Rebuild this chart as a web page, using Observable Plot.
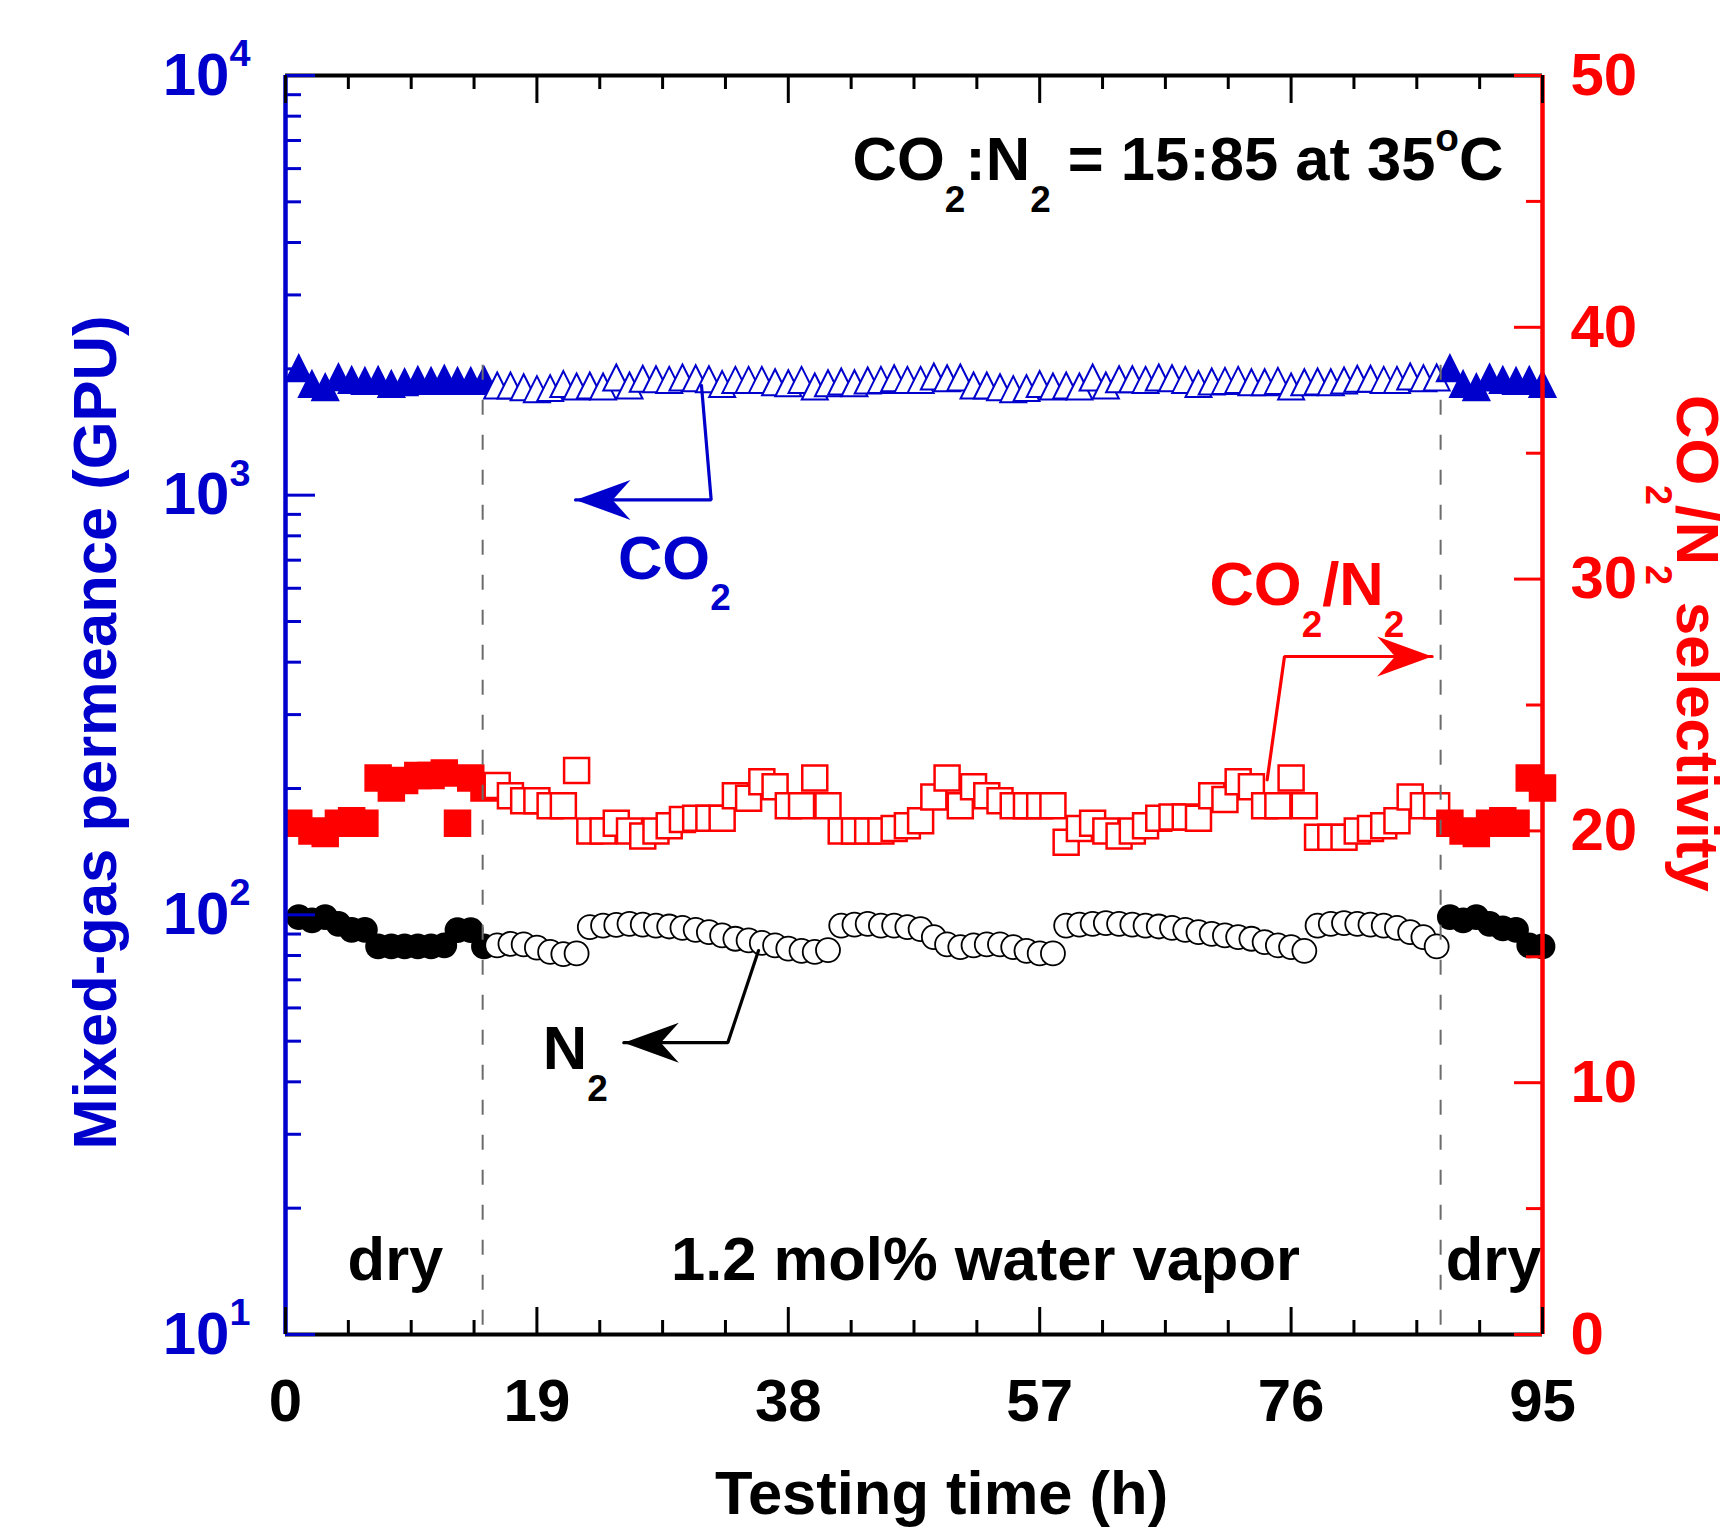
<!DOCTYPE html>
<html>
<head>
<meta charset="utf-8">
<script src="https://cdn.jsdelivr.net/npm/d3@7"></script>
<script src="https://cdn.jsdelivr.net/npm/@observablehq/plot@0.6"></script>
<style>
html, body { margin: 0; padding: 0; background: #ffffff; }
#chart svg { display: block; }
</style>
</head>
<body>
<div id="chart"></div>
<script>
// ---------------- data ----------------
const time = [1,2,3,4,5,6,7,8,9,10,11,12,13,14,15,16,17,18,19,20,21,22,23,24,25,26,27,28,29,30,
  31,32,33,34,35,36,37,38,39,40,41,42,43,44,45,46,47,48,49,50,51,52,53,54,55,56,57,58,59,60,
  61,62,63,64,65,66,67,68,69,70,71,72,73,74,75,76,77,78,79,80,81,82,83,84,85,86,87,88,89,90,
  91,92,93,94,95];

const co2Permeance = [1960,1796,1766,1866,1838,1828,1838,1796,1815,1838,1828,1849,1828,1828,1838,
  1782,1782,1766,1747,1757,1796,1772,1782,1772,1862,1782,1849,1845,1838,1862,
  1855,1845,1796,1838,1838,1838,1815,1805,1838,1772,1805,1822,1805,1832,1838,
  1855,1838,1838,1873,1855,1862,1782,1782,1766,1747,1757,1796,1772,1782,1772,
  1862,1782,1845,1845,1838,1862,1855,1838,1796,1822,1828,1838,1815,1815,1828,
  1772,1815,1822,1815,1832,1849,1849,1838,1838,1873,1855,1862,
  1960,1796,1766,1862,1838,1828,1838,1796];

const n2Permeance = [98.8,97.0,98.8,95.2,92.1,92.1,84.1,84.1,84.1,84.1,84.1,84.6,92.0,92.0,84.1,
  84.6,85.3,85.0,83.5,81.6,80.6,80.9,93.5,94.3,94.6,95.2,94.8,94.3,93.8,93.1,
  92.1,90.9,89.3,87.7,86.9,85.7,84.6,83.1,82.1,81.6,82.4,94.3,94.8,95.2,94.3,
  94.3,93.5,92.5,88.5,85.0,83.8,84.6,85.0,85.0,83.8,82.1,80.9,80.9,94.3,94.8,
  95.2,95.6,95.2,94.8,94.3,93.8,93.1,92.1,90.9,90.1,89.3,88.5,87.7,86.1,84.6,
  83.8,82.1,94.3,95.2,95.6,95.2,94.8,94.3,93.1,90.9,88.5,84.1,
  98.8,97.0,98.8,95.2,92.8,92.1,84.6,84.1];

const selectivity = [20.3,20.0,19.9,20.3,20.4,20.3,22.1,21.7,22.0,22.2,22.2,22.3,20.3,22.1,21.7,
  21.8,21.4,21.2,21.2,21.0,21.0,22.4,20.0,20.0,20.3,20.0,19.8,20.0,20.2,20.45,
  20.5,20.5,20.5,21.4,21.3,21.95,21.75,21.0,21.0,22.1,21.0,20.0,20.0,20.0,20.0,
  20.1,20.2,20.4,21.35,22.1,21.0,21.75,21.4,21.2,21.0,21.0,21.0,21.0,19.55,20.1,
  20.3,20.0,19.8,20.0,20.2,20.5,20.55,20.55,20.5,21.4,21.25,21.95,21.75,21.0,21.0,
  22.1,21.0,19.75,19.75,19.75,20.0,20.1,20.2,20.4,21.35,21.0,21.0,
  20.3,20.0,19.9,20.3,20.4,20.3,22.1,21.7];

const dryBefore = [1, 15];
const humid = [16, 87];
const dryAfter = [88, 95];
const switchTimes = [14.9, 87.3];

const xTicksMajor = [0, 19, 38, 57, 76, 95];
const xTicksMinor = [4.75, 9.5, 14.25, 23.75, 28.5, 33.25, 42.75, 47.5, 52.25, 61.75, 66.5, 71.25, 80.75, 85.5, 90.25];
const leftTicksMajor = [10, 100, 1000, 10000];
const leftTicksMinor = [20,30,40,50,60,70,80,90,200,300,400,500,600,700,800,900,2000,3000,4000,5000,6000,7000,8000,9000];
const rightTicksMajor = [0, 10, 20, 30, 40, 50];
const rightTicksMinor = [5, 15, 25, 35, 45];

const annotations = [
  {label: "CO_{2}:N_{2} = 15:85 at 35^{o}C", t: 92.05, v: 5622, color: "#000000", anchor: "end"},
  {label: "CO_{2}", t: 25.12, v: 633, color: "#0000CC", anchor: "start"},
  {label: "CO_{2}/N_{2}", t: 69.83, v: 546, color: "#FF0000", anchor: "start"},
  {label: "N_{2}", t: 19.45, v: 43.0, color: "#000000", anchor: "start"},
  {label: "dry", t: 8.31, v: 13.52, color: "#000000", anchor: "middle"},
  {label: "1.2 mol% water vapor", t: 52.9, v: 13.52, color: "#000000", anchor: "middle"},
  {label: "dry", t: 91.3, v: 13.52, color: "#000000", anchor: "middle"}
];

const arrowCO2 = [{t: 31.44, v: 1825}, {t: 32.17, v: 974}, {t: 21.92, v: 974}];
const arrowN2 = [{t: 35.75, v: 82.2}, {t: 33.43, v: 49.6}, {t: 25.57, v: 49.6}];
const arrowSel = [{t: 74.19, v: 209.8}, {t: 75.50, v: 412.6}, {t: 86.66, v: 412.6}];

// ---------------- styling ----------------
const BLUE = "#0000CC", RED = "#FF0000", BLACK = "#000000", GRAY = "#6b6b6b";
const WIDTH = 1731, HEIGHT = 1527;
const ML = 285, MR = 189, MT = 75, MB = 193;
const PW = WIDTH - ML - MR, PH = HEIGHT - MT - MB;
const TICKFONT = 60;
const FONT = 61.5;

// selectivity (0..50, right axis) mapped onto the left log scale (10..10^4)
const selToY = s => Math.pow(10, 1 + 3 * s / 50);

const rows = time.map((t, i) => ({t, co2: co2Permeance[i], n2: n2Permeance[i], sel: selectivity[i]}));
const inRange = r => d => d.t >= r[0] && d.t <= r[1];
const phases = [
  {rows: rows.filter(inRange(dryBefore)), open: false},
  {rows: rows.filter(inRange(humid)), open: true},
  {rows: rows.filter(inRange(dryAfter)), open: false}
];

// symbols
const triSym = {draw(ctx, size) { const r = Math.sqrt(size / Math.PI); ctx.moveTo(0, -4 * r / 3); ctx.lineTo(r, 2 * r / 3); ctx.lineTo(-r, 2 * r / 3); ctx.closePath(); }};
const sqSym = {draw(ctx, size) { const r = Math.sqrt(size / Math.PI); ctx.moveTo(-r, -r); ctx.lineTo(r, -r); ctx.lineTo(r, r); ctx.lineTo(-r, r); ctx.closePath(); }};
const headLeft = {draw(ctx) { ctx.moveTo(0, 0); ctx.lineTo(55, -20); ctx.lineTo(37, 0); ctx.lineTo(55, 20); ctx.closePath(); }};
const headRight = {draw(ctx) { ctx.moveTo(0, 0); ctx.lineTo(-55, -20); ctx.lineTo(-37, 0); ctx.lineTo(-55, 20); ctx.closePath(); }};

const marks = [];

// data markers
for (const p of phases) {
  marks.push(Plot.dot(p.rows, {x: "t", y: "co2", symbol: triSym, r: 13, fill: p.open ? "white" : BLUE, stroke: BLUE, strokeWidth: 2}));
}
for (const p of phases) {
  marks.push(Plot.dot(p.rows, {x: "t", y: d => selToY(d.sel), symbol: sqSym, r: 12.5, fill: p.open ? "white" : RED, stroke: RED, strokeWidth: 2.5}));
}
for (const p of phases) {
  marks.push(Plot.dot(p.rows, {x: "t", y: "n2", symbol: "circle", r: 12, fill: p.open ? "white" : BLACK, stroke: BLACK, strokeWidth: 1.8}));
}

// dashed switching lines
marks.push(Plot.ruleX(switchTimes, {x: d => d, y1: 2040, y2: 10, stroke: GRAY, strokeWidth: 2, strokeDasharray: "15,20"}));

// arrows
const arrowSpecs = [
  {pts: arrowCO2, color: BLUE, head: headLeft},
  {pts: arrowN2, color: BLACK, head: headLeft},
  {pts: arrowSel, color: RED, head: headRight}
];
for (const a of arrowSpecs) {
  marks.push(Plot.line(a.pts, {x: "t", y: "v", stroke: a.color, strokeWidth: 3.2, strokeLinejoin: "miter", curve: "linear"}));
  marks.push(Plot.dot(a.pts.slice(-1), {x: "t", y: "v", symbol: a.head, r: 1, fill: a.color, stroke: "none"}));
}

// annotations
for (const a of annotations) {
  marks.push(Plot.text([a], {x: "t", y: "v", text: "label", fill: a.color, textAnchor: a.anchor, lineAnchor: "bottom", fontSize: FONT, fontWeight: "bold"}));
}

// frame lines
marks.push(Plot.ruleY([10], {y: d => d, stroke: BLACK, strokeWidth: 4}));
marks.push(Plot.ruleY([10000], {y: d => d, stroke: BLACK, strokeWidth: 4}));
marks.push(Plot.ruleX([0], {x: d => d, stroke: BLUE, strokeWidth: 4.5}));
marks.push(Plot.ruleX([95], {x: d => d, stroke: RED, strokeWidth: 4.5}));

// inward ticks
marks.push(Plot.tickY(leftTicksMajor, {y: d => d, stroke: BLUE, strokeWidth: 3, insetRight: PW - 30}));
marks.push(Plot.tickY(leftTicksMinor, {y: d => d, stroke: BLUE, strokeWidth: 3, insetRight: PW - 16}));
marks.push(Plot.tickY(rightTicksMajor, {y: d => selToY(d), stroke: RED, strokeWidth: 3, insetLeft: PW - 28}));
marks.push(Plot.tickY(rightTicksMinor, {y: d => selToY(d), stroke: RED, strokeWidth: 3, insetLeft: PW - 16}));
marks.push(Plot.tickX(xTicksMajor, {x: d => d, stroke: BLACK, strokeWidth: 3, insetTop: PH - 27}));
marks.push(Plot.tickX(xTicksMinor, {x: d => d, stroke: BLACK, strokeWidth: 3, insetTop: PH - 14}));
marks.push(Plot.tickX(xTicksMajor, {x: d => d, stroke: BLACK, strokeWidth: 3, insetBottom: PH - 28}));
marks.push(Plot.tickX(xTicksMinor, {x: d => d, stroke: BLACK, strokeWidth: 3, insetBottom: PH - 14}));

// tick labels
marks.push(Plot.axisY({anchor: "left", ticks: leftTicksMajor, tickSize: 0, tickPadding: 35,
  tickFormat: d => `10^{${Math.round(Math.log10(d))}}`, fill: BLUE, fontSize: TICKFONT, fontWeight: "bold", label: null}));
marks.push(Plot.text(rightTicksMajor, {y: d => selToY(d), frameAnchor: "right", dx: 28, text: d => String(d),
  textAnchor: "start", lineAnchor: "middle", fill: RED, fontSize: TICKFONT, fontWeight: "bold"}));
marks.push(Plot.axisX({anchor: "bottom", ticks: xTicksMajor, tickSize: 0, tickPadding: 44,
  tickFormat: d => String(d), fill: BLACK, fontSize: TICKFONT, fontWeight: "bold", label: null}));

// axis titles
marks.push(Plot.text(["Mixed-gas permeance (GPU)"], {frameAnchor: "left", text: d => d, rotate: -90, dx: -170, dy: 27.5,
  textAnchor: "middle", lineAnchor: "bottom", fill: BLUE, fontSize: FONT, fontWeight: "bold"}));
marks.push(Plot.text(["CO_{2}/N_{2} selectivity"], {frameAnchor: "right", text: d => d, rotate: 90, dx: 134.5, dy: -61.5,
  textAnchor: "middle", lineAnchor: "bottom", fill: RED, fontSize: 60, fontWeight: "bold"}));
marks.push(Plot.text(["Testing time (h)"], {frameAnchor: "bottom", text: d => d, dx: 27.5, dy: 179,
  textAnchor: "middle", lineAnchor: "bottom", fill: BLACK, fontSize: FONT, fontWeight: "bold"}));

const chart = Plot.plot({
  width: WIDTH,
  height: HEIGHT,
  marginLeft: ML,
  marginRight: MR,
  marginTop: MT,
  marginBottom: MB,
  x: {domain: [0, 95]},
  y: {type: "log", domain: [10, 10000]},
  style: {fontFamily: "'Liberation Sans', Arial, Helvetica, sans-serif", fontWeight: "bold", background: "#ffffff", overflow: "visible"},
  marks
});

// rich text: _{sub} and ^{sup}
const SVGNS = "http://www.w3.org/2000/svg";
function richify(root) {
  root.querySelectorAll("text").forEach(t => {
    const s = t.textContent;
    if (!/[_^]\{/.test(s)) return;
    const holder = t.closest("[font-size]");
    const fs = holder ? parseFloat(holder.getAttribute("font-size")) || FONT : FONT;
    const parts = s.split(/([_^]\{[^}]*\})/);
    t.textContent = "";
    let offset = 0;
    for (const p of parts) {
      if (!p) continue;
      const m = p.match(/^([_^])\{([^}]*)\}$/);
      const ts = document.createElementNS(SVGNS, "tspan");
      if (m) {
        const shift = m[1] === "_" ? 0.52 * fs : -0.48 * fs;
        ts.setAttribute("dy", shift - offset);
        ts.setAttribute("font-size", m[1] === "_" ? 0.6 * fs : 0.63 * fs);
        offset = shift;
        ts.textContent = m[2];
      } else {
        ts.setAttribute("dy", -offset);
        offset = 0;
        ts.textContent = p;
      }
      t.appendChild(ts);
    }
  });
}
richify(chart);
document.getElementById("chart").appendChild(chart);
</script>
</body>
</html>
